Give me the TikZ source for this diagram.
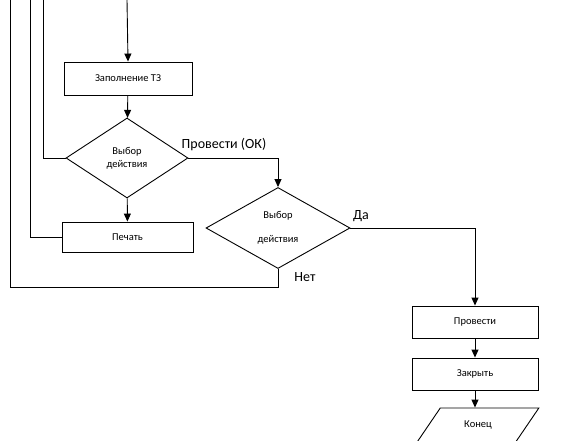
\documentclass[tikz,border=0pt]{standalone}
\usepackage{fontspec}
\setmainfont{Carlito}
\usetikzlibrary{shapes.geometric}
\usetikzlibrary{arrows.meta}
\tikzset{
  blk/.style={draw, rectangle, inner sep=0pt, font=\fontsize{10.5}{13}\selectfont},
  choice/.style={draw, diamond, inner sep=0pt, align=center, font=\fontsize{10.5}{13}\selectfont},
  endblk/.style={draw, trapezium, trapezium stretches=true, trapezium left angle=45, trapezium right angle=135, inner sep=0pt, font=\fontsize{10.5}{13}\selectfont},
  lbl/.style={font=\fontsize{14}{16}\selectfont, inner sep=0pt}
}
\newcommand{\freeend}[3]{\coordinate (#1) at ( #2 , #3 );}

\begin{document}
\begin{tikzpicture}[x=1pt, y=-1pt, line width=0.9pt, >={Triangle[length=8pt,width=7pt]}]
        \useasboundingbox (0,0) rectangle (570,441);
        % free ends at the top
        \freeend{in}{127}{0}
        \freeend{back1}{10}{0}
        \freeend{back2}{30}{0}
        \freeend{back3}{43}{0}
        % left column
        \node[blk, minimum width=128pt, minimum height=33pt] (fill) at (128,78.5) {Заполнение ТЗ};
        \node[choice, minimum width=122pt, minimum height=80pt] (pick1) at (127,158) {Выбор\\действия};
        \node[blk, minimum width=131pt, minimum height=30pt] (print) at (127.5,237) {Печать};
        % middle
        \node[choice, minimum width=144pt, minimum height=81pt] (pick2) at (278,228) {Выбор\\[11pt]действия};
        % right column
        \node[blk, minimum width=126pt, minimum height=32pt] (run) at (475,322) {Провести};
        \node[blk, minimum width=126pt, minimum height=32pt] (close) at (475,374) {Закрыть};
        \node[endblk, minimum width=122pt, minimum height=34pt] (fin) at (478,425) {Конец};
        % labels
        \node[lbl] (okl) at (224,145) {Провести (ОК)};
        \node[lbl] (yesl) at (361,216) {Да};
        \node[lbl] (nol) at (305,277) {Нет};
        % arrows down
        \draw[->] (in) -- (fill.north);
        \draw[->] (fill) -- (pick1);
        \draw[->] (pick1) -- (print);
        \draw[->] (pick1.east) -| (pick2.north);
        \draw[->] (pick2.east) -| (run.north);
        \draw[->] (run) -- (close);
        \draw[->] (close) -- (close |- fin.north);
        % lines back to the top
        \draw (back3) |- (pick1.west);
        \draw (back2) |- (print.west);
        \draw (pick2.south) -- (pick2.south |- 0,287) -| (back1);
\end{tikzpicture}
\end{document}
